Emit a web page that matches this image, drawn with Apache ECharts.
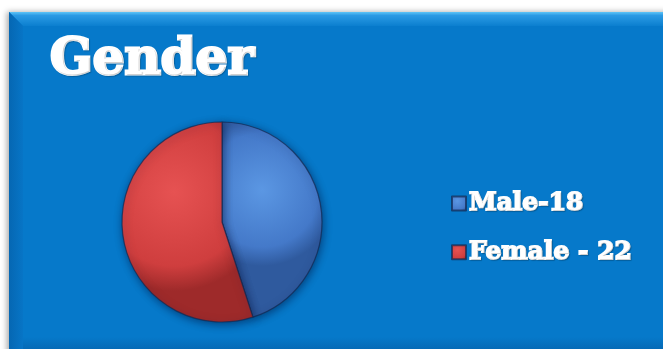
<!DOCTYPE html>
<html>
<head>
<meta charset="utf-8">
<script src="https://cdn.jsdelivr.net/npm/echarts@6/dist/echarts.min.js"></script>
<style>
  html, body { margin: 0; padding: 0; background: #ffffff; }
  #chart { width: 663px; height: 349px; }
</style>
</head>
<body>
<div id="chart"></div>
<script>
// Gender split of the group
const categories = ['Male-18', 'Female - 22'];
const counts = [18, 22];
const sliceColors = [
  { light: '#5b97e3', mid: '#4479c9', dark: '#2f5a9e' },
  { light: '#e65252', mid: '#cf3e3e', dark: '#9e2a2a' }
];

const chart = echarts.init(document.getElementById('chart'), null, { renderer: 'canvas' });

function sliceFill(c) {
  return new echarts.graphic.RadialGradient(0.4, 0.35, 0.75, [
    { offset: 0, color: c.light },
    { offset: 0.75, color: c.mid },
    { offset: 1, color: c.dark }
  ]);
}

const pieData = categories.map((name, i) => ({
  name: name,
  value: counts[i],
  itemStyle: { color: sliceFill(sliceColors[i]) }
}));

chart.setOption({
  backgroundColor: '#ffffff',
  graphic: [
    // panel
    {
      type: 'rect', z: -10, silent: true,
      shape: { x: 9, y: 12, width: 680, height: 360 },
      style: {
        fill: '#0679ca',
        shadowColor: 'rgba(0,0,0,0.35)', shadowBlur: 6, shadowOffsetX: -2, shadowOffsetY: 0
      }
    },
    // top bevel
    {
      type: 'polygon', z: -9, silent: true,
      shape: { points: [[9, 12], [663, 12], [663, 26], [23, 26]] },
      style: {
        fill: new echarts.graphic.LinearGradient(0, 0, 0, 1, [
          { offset: 0, color: '#5ec4f7' },
          { offset: 0.25, color: '#2b9ae4' },
          { offset: 1, color: '#0b7fcf' }
        ])
      }
    },
    // left bevel
    {
      type: 'polygon', z: -9, silent: true,
      shape: { points: [[9, 12], [23, 26], [23, 349], [9, 349]] },
      style: {
        fill: new echarts.graphic.LinearGradient(0, 0, 1, 0, [
          { offset: 0, color: '#0567b3' },
          { offset: 1, color: '#0775c6' }
        ])
      }
    },
    // bottom bevel
    {
      type: 'rect', z: -9, silent: true,
      shape: { x: 23, y: 337, width: 650, height: 12 },
      style: {
        fill: new echarts.graphic.LinearGradient(0, 0, 0, 1, [
          { offset: 0, color: '#0679ca' },
          { offset: 1, color: '#056ab6' }
        ])
      }
    }
  ],
  title: {
    text: 'Gender',
    left: 45,
    top: 31,
    textStyle: {
      color: '#ffffff',
      fontFamily: 'DejaVu Serif',
      fontWeight: 'bold',
      fontSize: 50,
      textBorderColor: '#ffffff',
      textBorderWidth: 3,
      textShadowColor: 'rgba(0,0,0,0.2)',
      textShadowBlur: 1,
      textShadowOffsetX: 1,
      textShadowOffsetY: 1
    }
  },
  legend: {
    orient: 'vertical',
    left: 446,
    top: 185,
    itemWidth: 14,
    itemHeight: 14,
    itemGap: 22,
    icon: 'rect',
    data: categories,
    textStyle: {
      color: '#ffffff',
      fontFamily: 'DejaVu Serif',
      fontWeight: 'bold',
      fontSize: 25,
      padding: [0, 0, 0, -2],
      textBorderColor: '#ffffff',
      textBorderWidth: 1.8,
      textShadowColor: 'rgba(0,0,0,0.2)',
      textShadowBlur: 1,
      textShadowOffsetX: 1,
      textShadowOffsetY: 1
    }
  },
  series: [{
    type: 'pie',
    center: [222, 222],
    radius: [0, 100],
    startAngle: 90,
    clockwise: true,
    animation: false,
    label: { show: false },
    labelLine: { show: false },
    emphasis: { disabled: true },
    itemStyle: {
      borderColor: 'rgba(20,40,80,0.7)',
      borderWidth: 1.2,
      shadowColor: 'rgba(0,20,60,0.55)',
      shadowBlur: 8,
      shadowOffsetX: 1,
      shadowOffsetY: 2
    },
    data: pieData
  }]
});
</script>
</body>
</html>
